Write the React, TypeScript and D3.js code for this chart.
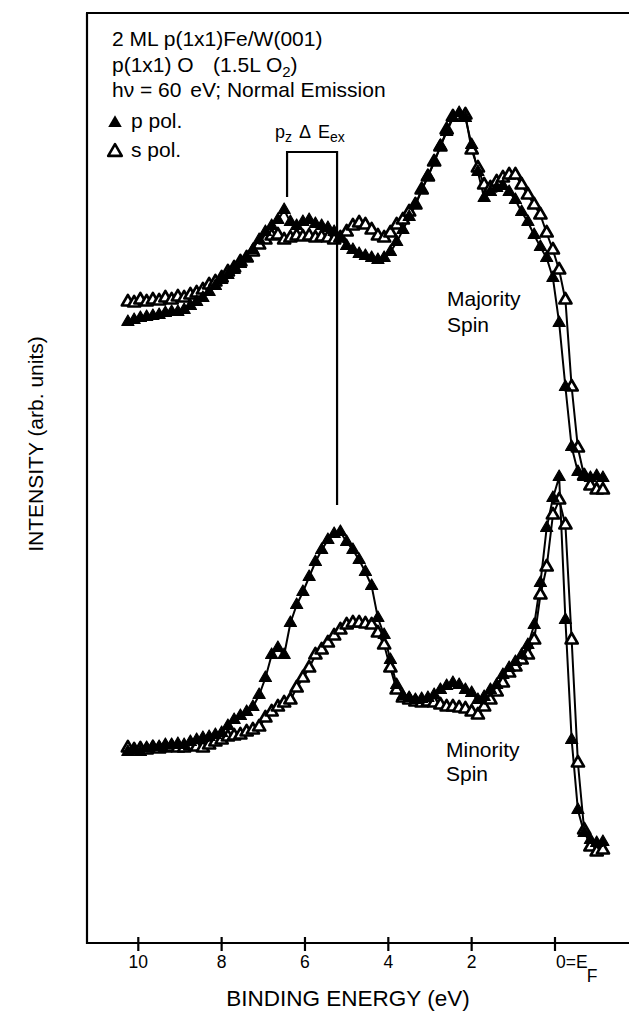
import React from 'react';
import * as d3 from 'd3';

// binding energy grid (eV)
const energies = [
  10.25, 10.1, 9.95, 9.8, 9.65, 9.5, 9.35, 9.2, 9.05, 8.9, 8.75, 8.6, 8.45, 8.3, 8.15, 8.0,
  7.85, 7.7, 7.55, 7.4, 7.25, 7.1, 6.95, 6.8, 6.65, 6.5, 6.35, 6.2, 6.05, 5.9, 5.75, 5.6,
  5.45, 5.3, 5.15, 5.0, 4.85, 4.7, 4.55, 4.4, 4.25, 4.1, 3.95, 3.8, 3.65, 3.5, 3.35, 3.2,
  3.05, 2.9, 2.75, 2.6, 2.45, 2.3, 2.15, 2.0, 1.85, 1.7, 1.55, 1.4, 1.25, 1.1, 0.95, 0.8,
  0.65, 0.5, 0.35, 0.2, 0.05, -0.1, -0.25, -0.4, -0.55, -0.7, -0.85, -1.0, -1.15,
];

// intensities (arb. units), majority spin
const pMajority = [
  621, 623, 625, 626, 627, 628, 630, 631, 631, 633, 637, 641, 645, 651, 657, 663,
  668, 673, 679, 685, 693, 703, 711, 717, 723, 733, 721, 717, 721, 723, 719, 717,
  715, 711, 705, 697, 693, 689, 687, 685, 683, 685, 691, 701, 713, 726, 738, 753,
  767, 781, 797, 811, 825, 830, 825, 798, 771, 745, 751, 755, 757, 751, 743, 731,
  721, 708, 696, 685, 665, 620, 556, 496, 471, 466, 465, 467, 465,
];
const sMajority = [
  641, 640, 643, 641, 643, 642, 645, 643, 646, 645, 648, 650, 653, 658, 661, 665,
  671, 675, 681, 685, 691, 698, 703, 707, 708, 703, 705, 707, 706, 707, 705, 706,
  705, 703, 705, 711, 717, 720, 718, 713, 707, 705, 710, 718, 723, 731, 738, 753,
  766, 781, 796, 813, 826, 826, 828, 793, 775, 758, 755, 761, 765, 768, 768, 758,
  748, 738, 728, 710, 693, 673, 643, 556, 495, 467, 457, 453, 453,
];

// intensities (arb. units), minority spin
const pMinority = [
  191, 193, 191, 195, 196, 196, 198, 198, 199, 198, 201, 203, 205, 206, 208, 210,
  217, 223, 227, 231, 236, 248, 265, 288, 295, 288, 320, 338, 351, 366, 381, 393,
  403, 409, 411, 401, 393, 383, 371, 357, 325, 308, 283, 258, 247, 245, 243, 244,
  245, 248, 253, 257, 260, 258, 253, 250, 243, 246, 253, 258, 268, 275, 281, 288,
  298, 318, 360, 415, 445, 466, 323, 203, 133, 110, 103, 100, 101,
];
const sMinority = [
  195, 193, 194, 193, 195, 194, 195, 196, 195, 195, 197, 196, 195, 198, 201, 203,
  206, 207, 208, 211, 213, 216, 225, 231, 236, 240, 243, 255, 265, 275, 288, 293,
  300, 307, 313, 318, 320, 320, 319, 318, 310, 298, 275, 253, 245, 243, 241, 240,
  241, 240, 238, 236, 236, 235, 234, 231, 228, 236, 243, 251, 260, 270, 276, 283,
  288, 303, 348, 376, 428, 443, 418, 303, 180, 113, 96, 91, 93,
];

const xTicks = [10, 8, 6, 4, 2];
// p_z exchange splitting bracket: energies and levels (top, left foot, right foot)
const bracketEnergies = [6.43, 5.23];
const bracketLevels = [791, 746, 438];

const W = 629;
const H = 1011;
const FONT = 'Liberation Sans, Arial, Helvetica, sans-serif';

export default function App() {
  const x = d3.scaleLinear().domain([10, 0]).range([138.3, 555]);
  const y = d3.scaleLinear().domain([0, 930]).range([943, 13]);

  const series = [
    { vals: sMajority, filled: false },
    { vals: sMinority, filled: false },
    { vals: pMajority, filled: true },
    { vals: pMinority, filled: true },
  ];

  const line = d3
    .line<number>()
    .x((_, i) => x(energies[i]))
    .y((d) => y(d));

  const tri = d3.symbol(d3.symbolTriangle, 64)() as string;
  const legendTri = d3.symbol(d3.symbolTriangle, 80)() as string;

  const [bl, br] = bracketEnergies.map((e) => x(e));
  const [bTop, bLeft, bRight] = bracketLevels.map((v) => y(v));

  return (
    <svg
      width={W}
      height={H}
      style={{ position: 'absolute', left: 0, top: 0, background: '#fff' }}
      fontFamily={FONT}
    >
      {/* frame */}
      <g stroke="#000" strokeWidth={2.2} fill="none">
        <line x1={87} y1={13} x2={87} y2={944} />
        <line x1={86} y1={13} x2={W} y2={13} />
        <line x1={86} y1={943} x2={W} y2={943} />
      </g>

      {/* x ticks */}
      {xTicks.concat([0]).map((t) => (
        <line key={t} x1={x(t)} x2={x(t)} y1={937} y2={951} stroke="#000" strokeWidth={2.2} />
      ))}
      {xTicks.map((t) => (
        <text key={t} x={x(t)} y={968} fontSize={17.5} textAnchor="middle">
          {t}
        </text>
      ))}
      <text x={x(0) + 1} y={968} fontSize={17.5}>
        0=E
        <tspan dx={-1} dy={14}>F</tspan>
      </text>
      <text x={348} y={1006} fontSize={22.5} textAnchor="middle">
        BINDING ENERGY (eV)
      </text>
      <text transform="translate(43,444) rotate(-90)" fontSize={21} textAnchor="middle">
        INTENSITY (arb. units)
      </text>

      {/* spectra */}
      {series.map((s, k) => (
        <path key={k} d={line(s.vals) as string} fill="none" stroke="#000" strokeWidth={2} />
      ))}
      {series.map((s, k) => (
        <g key={'m' + k}>
          {s.vals.map((v, i) => (
            <path
              key={i}
              d={tri}
              transform={`translate(${x(energies[i])},${y(v)})`}
              fill={s.filled ? '#000' : '#fff'}
              stroke="#000"
              strokeWidth={s.filled ? 1.2 : 2.6}
              strokeLinejoin="round"
            />
          ))}
        </g>
      ))}

      {/* bracket */}
      <path
        d={`M${bl},${bLeft}V${bTop}H${br}V${bRight}`}
        fill="none"
        stroke="#000"
        strokeWidth={2.2}
      />
      <text x={275} y={138} fontSize={18}>
        p<tspan fontSize={14} dy={4}>z</tspan>
        <tspan dx={7} dy={-4}>Δ</tspan>
        <tspan dx={7}>E</tspan>
        <tspan fontSize={14} dy={4}>ex</tspan>
      </text>

      {/* header */}
      <g fontSize={21}>
        <text x={112} y={46}>2 ML p(1x1)Fe/W(001)</text>
        <text x={112} y={72}>
          p(1x1) O
          <tspan x={213}>(1.5L O</tspan>
          <tspan fontSize={15} dy={5}>2</tspan>
          <tspan dy={-5}>)</tspan>
        </text>
        <text x={112} y={97}>
          hν = 60 <tspan dx={3}>eV; Normal Emission</tspan>
        </text>
        <path d={legendTri} transform="translate(115,123)" fill="#000" />
        <text x={131} y={128}>p pol.</text>
        <path
          d={legendTri}
          transform="translate(115,152)"
          fill="#fff"
          stroke="#000"
          strokeWidth={2.6}
          strokeLinejoin="round"
        />
        <text x={131} y={157}>s pol.</text>
      </g>

      {/* spin labels */}
      <g fontSize={21}>
        <text x={447} y={306}>Majority</text>
        <text x={447} y={332}>Spin</text>
        <text x={446} y={757}>Minority</text>
        <text x={446} y={781}>Spin</text>
      </g>
    </svg>
  );
}
